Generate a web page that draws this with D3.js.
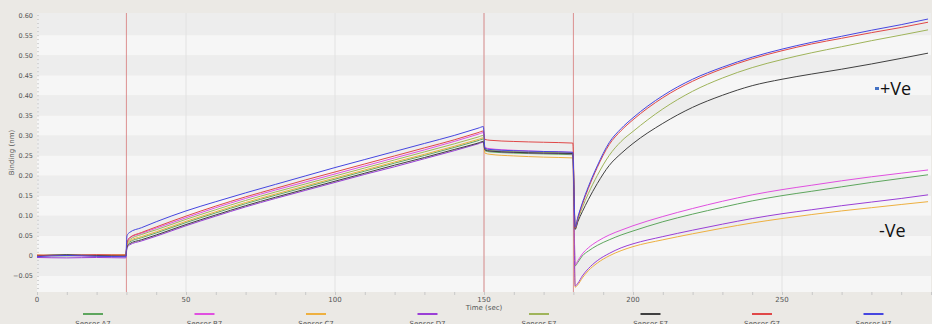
<!DOCTYPE html>
<html>
<head>
<meta charset="utf-8">
<script src="https://cdn.jsdelivr.net/npm/d3@7"></script>
<style>
  body { margin: 0; background: #ebe9e5; }
  svg { display: block; font-family: "DejaVu Sans", sans-serif; }
</style>
</head>
<body>
<div id="chart"></div>
<script>
// time points (sec) shared by every sensor
var times = [0, 10, 20, 29.8, 30.2, 31, 35, 40, 50, 60, 70, 80, 90, 100, 110, 120, 130, 140, 148, 149.8,
  150.3, 152, 160, 170, 179.8, 180.6, 181.5, 183, 185, 188, 192, 196, 200, 210, 220, 230, 240, 250, 260, 270, 280, 290, 299]

// binding (nm)
var a7 = [0.001, 0.0, 0.002, 0.001, 0.025, 0.034, 0.045, 0.057, 0.083, 0.107, 0.13, 0.151, 0.171, 0.191, 0.211, 0.231, 0.25, 0.27, 0.287, 0.291,
  0.262, 0.259, 0.256, 0.254, 0.252, -0.025, -0.016, 0.0, 0.012, 0.026, 0.04, 0.052, 0.062, 0.085, 0.104, 0.121, 0.137, 0.15, 0.161, 0.172, 0.183, 0.193, 0.202]
var b7 = [0.0, 0.001, -0.001, 0.0, 0.03, 0.044, 0.056, 0.069, 0.095, 0.12, 0.143, 0.164, 0.184, 0.204, 0.224, 0.244, 0.264, 0.285, 0.303, 0.307,
  0.27, 0.267, 0.263, 0.26, 0.258, -0.022, -0.012, 0.005, 0.02, 0.036, 0.052, 0.064, 0.075, 0.098, 0.118, 0.136, 0.152, 0.165, 0.176, 0.187, 0.197, 0.206, 0.214]
var c7 = [0.002, 0.001, 0.002, 0.003, 0.027, 0.037, 0.048, 0.06, 0.086, 0.11, 0.133, 0.154, 0.174, 0.194, 0.214, 0.234, 0.253, 0.273, 0.29, 0.294,
  0.256, 0.253, 0.249, 0.246, 0.244, -0.078, -0.072, -0.055, -0.037, -0.018, 0.0, 0.013, 0.023, 0.04, 0.055, 0.069, 0.082, 0.093, 0.103, 0.112, 0.12, 0.128, 0.135]
var d7 = [-0.004, -0.005, -0.004, -0.005, 0.02, 0.027, 0.037, 0.049, 0.075, 0.099, 0.122, 0.143, 0.163, 0.183, 0.203, 0.222, 0.242, 0.262, 0.279, 0.283,
  0.265, 0.262, 0.258, 0.256, 0.254, -0.075, -0.068, -0.05, -0.032, -0.012, 0.006, 0.02, 0.03, 0.048, 0.064, 0.079, 0.093, 0.105, 0.115, 0.125, 0.134, 0.143, 0.152]
var e7 = [0.001, 0.002, 0.0, 0.002, 0.029, 0.04, 0.053, 0.065, 0.091, 0.115, 0.138, 0.159, 0.179, 0.199, 0.219, 0.239, 0.259, 0.279, 0.296, 0.3,
  0.266, 0.263, 0.26, 0.258, 0.256, 0.068, 0.09, 0.12, 0.155, 0.2, 0.25, 0.285, 0.31, 0.366, 0.41, 0.443, 0.469, 0.489, 0.506, 0.521, 0.536, 0.55, 0.563]
var f7 = [0.0, 0.003, 0.001, 0.0, 0.022, 0.03, 0.04, 0.052, 0.078, 0.102, 0.125, 0.146, 0.166, 0.186, 0.206, 0.226, 0.245, 0.265, 0.281, 0.285,
  0.264, 0.261, 0.258, 0.256, 0.255, 0.066, 0.085, 0.11, 0.14, 0.18, 0.225, 0.255, 0.28, 0.33, 0.37, 0.4, 0.424, 0.44, 0.453, 0.465, 0.478, 0.492, 0.505]
var g7 = [0.002, 0.001, 0.003, 0.002, 0.032, 0.045, 0.058, 0.072, 0.099, 0.124, 0.147, 0.168, 0.189, 0.209, 0.229, 0.249, 0.269, 0.289, 0.307, 0.311,
  0.29, 0.288, 0.285, 0.283, 0.281, 0.07, 0.094, 0.128, 0.168, 0.22, 0.277, 0.312, 0.339, 0.394, 0.435, 0.466, 0.491, 0.511, 0.528, 0.542, 0.556, 0.569, 0.582]
var h7 = [-0.002, 0.001, -0.001, -0.002, 0.05, 0.058, 0.07, 0.085, 0.112, 0.135, 0.157, 0.178, 0.199, 0.22, 0.24, 0.26, 0.28, 0.3, 0.318, 0.322,
  0.268, 0.265, 0.262, 0.26, 0.258, 0.072, 0.097, 0.132, 0.172, 0.224, 0.282, 0.317, 0.344, 0.399, 0.44, 0.47, 0.495, 0.515, 0.532, 0.547, 0.562, 0.576, 0.59]

var sensors = ['Sensor A7', 'Sensor B7', 'Sensor C7', 'Sensor D7', 'Sensor E7', 'Sensor F7', 'Sensor G7', 'Sensor H7']
var values = [a7, b7, c7, d7, e7, f7, g7, h7]
var colors = ['#5ea65e', '#e050e0', '#eeb040', '#9a3fd6', '#9fb45a', '#404040', '#e04848', '#4646e0']

// step boundaries (red markers) and tick labels
var steps = [30, 150, 180]
var xTicks = [0, 50, 100, 150, 200, 250]
var yTicks = [-0.05, 0, 0.05, 0.1, 0.15, 0.2, 0.25, 0.3, 0.35, 0.4, 0.45, 0.5, 0.55, 0.6]

var width = 932
var height = 324
var plotLeft = 37, plotRight = 931, plotTop = 13, plotBottom = 292

var x = d3.scaleLinear().domain([0, 300]).range([plotLeft, plotRight])
var y = d3.scaleLinear().domain([-0.09, 0.605]).range([plotBottom, plotTop])

var svg = d3.select('#chart')
  .append('svg')
  .attr('width', width)
  .attr('height', height)

svg.append('rect')
  .attr('width', width)
  .attr('height', height)
  .style('fill', '#ebe9e5')

// plot background bands, one per 0.05
var bands = d3.range(-2, 12)
var bandTop = (k) => y(k == 11 ? 0.605 : (k + 1) * 0.05)
var bandBottom = (k) => y(Math.max(k * 0.05, -0.09))
svg.append('g')
  .selectAll('rect')
  .data(bands)
  .enter()
  .append('rect')
  .attr('x', plotLeft)
  .attr('width', plotRight - plotLeft)
  .attr('y', (k) => bandTop(k))
  .attr('height', (k) => bandBottom(k) - bandTop(k))
  .style('fill', (k) => (k % 2 != 0) ? '#ededed' : '#f6f6f6')

// faint vertical grid
svg.append('g')
  .selectAll('line')
  .data(xTicks.slice(1))
  .enter()
  .append('line')
  .attr('x1', (d) => x(d))
  .attr('x2', (d) => x(d))
  .attr('y1', plotTop)
  .attr('y2', plotBottom)
  .style('stroke', '#e2e2e2')
  .style('stroke-width', 1)

// axes
var xAxis = svg.append('g')
  .attr('transform', 'translate(0,' + plotBottom + ')')
  .call(d3.axisBottom(x).tickValues(d3.range(0, 301, 10)).tickSize(3).tickFormat(''))
xAxis.select('.domain').remove()
xAxis.selectAll('line').style('stroke', '#c8c8c8')

svg.append('g')
  .selectAll('text')
  .data(xTicks)
  .enter()
  .append('text')
  .attr('x', (d) => x(d))
  .attr('y', 302)
  .attr('text-anchor', 'middle')
  .style('font-size', '7px')
  .style('fill', '#555')
  .text((d) => d)

var yAxis = svg.append('g')
  .attr('transform', 'translate(' + plotLeft + ',0)')
  .call(d3.axisRight(y).tickValues(d3.range(-0.08, 0.601, 0.01)).tickSize(2).tickFormat(''))
yAxis.select('.domain').remove()
yAxis.selectAll('line').style('stroke', '#d0d0d0')

svg.append('g')
  .selectAll('text')
  .data(yTicks)
  .enter()
  .append('text')
  .attr('x', 33)
  .attr('y', (d) => y(d) + 2.5)
  .attr('text-anchor', 'end')
  .style('font-size', '6.5px')
  .style('fill', '#555')
  .text((d) => d == 0 ? '0' : d3.format('.2f')(d))

svg.append('text')
  .attr('transform', 'translate(14,' + ((plotTop + plotBottom) / 2) + ') rotate(-90)')
  .attr('text-anchor', 'middle')
  .style('font-size', '7px')
  .style('fill', '#555')
  .text('Binding (nm)')

svg.append('text')
  .attr('x', x(150))
  .attr('y', 310)
  .attr('text-anchor', 'middle')
  .style('font-size', '7px')
  .style('fill', '#555')
  .text('Time (sec)')

// step markers
svg.append('g')
  .selectAll('line')
  .data(steps)
  .enter()
  .append('line')
  .attr('x1', (d) => x(d))
  .attr('x2', (d) => x(d))
  .attr('y1', plotTop)
  .attr('y2', plotBottom)
  .style('stroke', '#d98080')
  .style('stroke-width', 1)
  .style('opacity', 0.85)

// sensor traces
var line = d3.line()
  .x((d, i) => x(times[i]))
  .y((d) => y(d))
  .curve(d3.curveMonotoneX)

svg.append('g')
  .selectAll('path')
  .data(values)
  .enter()
  .append('path')
  .attr('d', (d) => line(d))
  .style('fill', 'none')
  .style('stroke', (d, i) => colors[i])
  .style('stroke-width', 1)

// legend
var legend = svg.append('g')
  .selectAll('g')
  .data(sensors)
  .enter()
  .append('g')
  .attr('transform', (d, i) => 'translate(' + (93 + i * 111.5) + ',0)')

legend.append('line')
  .attr('x1', -10)
  .attr('x2', 10)
  .attr('y1', 314)
  .attr('y2', 314)
  .style('stroke', (d, i) => colors[i])
  .style('stroke-width', 2)

legend.append('text')
  .attr('y', 326)
  .attr('text-anchor', 'middle')
  .style('font-size', '7px')
  .style('fill', '#555')
  .text((d) => d)

// annotations
svg.append('rect')
  .attr('x', 875)
  .attr('y', 87)
  .attr('width', 4)
  .attr('height', 3)
  .style('fill', '#4472c4')

svg.append('text')
  .attr('x', 880)
  .attr('y', 95)
  .style('font-family', '"Open Sans", sans-serif')
  .style('font-size', '18px')
  .style('fill', '#111')
  .text('+Ve')

svg.append('text')
  .attr('x', 879)
  .attr('y', 237)
  .style('font-family', '"Open Sans", sans-serif')
  .style('font-size', '18px')
  .style('fill', '#111')
  .text('-Ve')
</script>
</body>
</html>
